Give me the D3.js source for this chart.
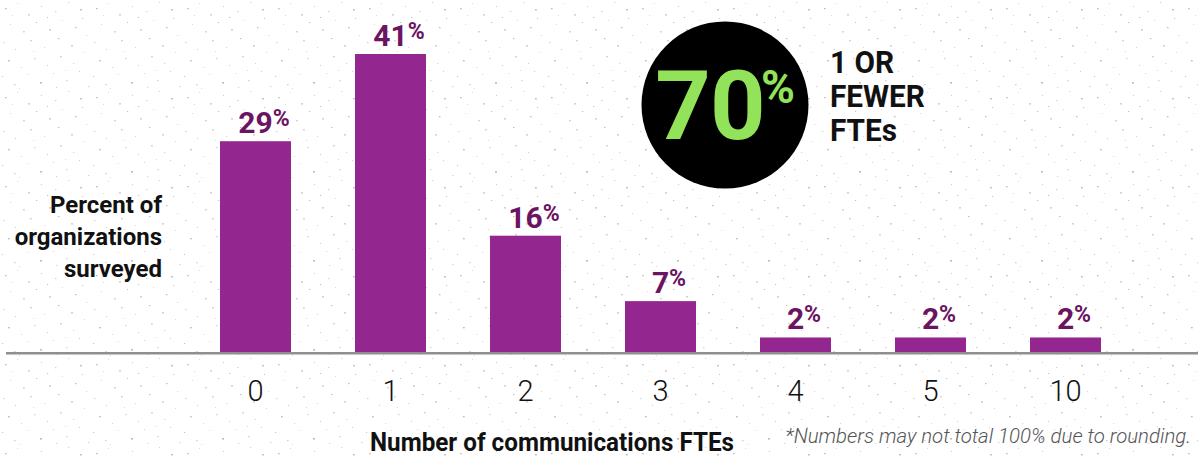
<!DOCTYPE html>
<html>
<head>
<meta charset="utf-8">
<script src="https://cdn.jsdelivr.net/npm/d3@7"></script>
<style>
  body { margin: 0; background: #fff; }
  svg { display: block; }
</style>
</head>
<body>
<div id="container"></div>
<script>
// data
let categories = ["0", "1", "2", "3", "4", "5", "10"];
let values = [29, 41, 16, 7, 2, 2, 2];
let bigNumber = 70;
let bigNumberText = ["1 OR", "FEWER", "FTEs"];
let yLabel = ["Percent of", "organizations", "surveyed"];
let xLabel = "Number of communications FTEs";
let footnote = "*Numbers may not total 100% due to rounding.";

let w = 1198;
let h = 456;
let barColor = "#93278f";
let labelColor = "#6b1462";
let ink = "#111111";

let viz = d3.select("#container")
  .append("svg")
    .attr("width", w)
    .attr("height", h);

// speckled paper background
let specks = [
  [5,8,1.6],[17,3,1],[28,14,2],[41,6,1],[55,11,1.4],[68,2,1.2],[80,9,1.8],
  [10,24,1],[23,31,1.8],[36,22,1.2],[49,29,2],[62,20,1],[75,27,1.5],[86,35,1.1],
  [3,42,1.4],[15,49,1],[30,40,1.8],[44,47,1.1],[58,38,1.4],[71,45,2],[84,52,1],
  [8,60,1.7],[21,67,1.1],[34,58,1.5],[47,65,1],[60,56,1.8],[73,63,1.2],
  [2,76,1.1],[14,84,1.6],[27,74,1],[40,82,2],[53,73,1.1],[66,80,1.5],[79,71,1],[88,86,1.4],
  [12,15,1],[47,17,1.2],[33,51,1],[65,70,1],[82,18,1.1],[19,88,1],[56,87,1.2]
];
let pat = viz.append("defs").append("pattern")
  .attr("id", "paper")
  .attr("width", 91)
  .attr("height", 89)
  .attr("patternUnits", "userSpaceOnUse");
pat.append("rect").attr("width", 91).attr("height", 89).attr("fill", "#ffffff");
pat.selectAll("rect.s")
  .data(specks)
  .enter()
  .append("rect")
    .attr("class", "s")
    .attr("x", d => d[0])
    .attr("y", d => d[1])
    .attr("width", d => d[2])
    .attr("height", d => d[2] * 0.8)
    .attr("fill", (d, i) => i % 3 == 0 ? "#bdbdbd" : "#d2d2d2");

viz.append("rect")
  .attr("width", w)
  .attr("height", h)
  .attr("fill", "url(#paper)");

// scales
let x = d3.scaleBand()
  .domain(categories)
  .range([188, 1133])
  .paddingInner(0.474)
  .paddingOuter(0.237);

let y = d3.scaleLinear()
  .domain([0, 41])
  .range([352, 54]);

// bars
viz.selectAll("rect.bar")
  .data(values)
  .enter()
  .append("rect")
    .attr("class", "bar")
    .attr("x", (d, i) => x(categories[i]))
    .attr("y", d => y(d))
    .attr("width", x.bandwidth())
    .attr("height", d => y(0) - y(d))
    .attr("fill", barColor);

// baseline
viz.append("line")
  .attr("x1", 6)
  .attr("x2", w)
  .attr("y1", y(0) + 1.3)
  .attr("y2", y(0) + 1.3)
  .attr("stroke", "#8f8f8f")
  .attr("stroke-width", 2.6);

// x axis tick labels
let xAxis = d3.axisBottom(x).tickSize(0).tickPadding(0);
let gx = viz.append("g")
  .attr("transform", "translate(0,401)")
  .call(xAxis);
gx.select(".domain").remove();
gx.selectAll("text")
  .attr("dy", 0)
  .attr("fill", ink)
  .attr("style", "font-size:29px; font-family: Roboto; font-weight:300;");

// value labels: number centred on the bar, % raised after it
let labels = viz.selectAll("g.val")
  .data(values)
  .enter()
  .append("g")
    .attr("class", "val")
    .attr("transform", (d, i) => "translate(" + (x(categories[i]) + x.bandwidth() / 2) + "," + (y(d) - 8) + ")");

labels.append("text")
  .attr("class", "num")
  .attr("text-anchor", "middle")
  .attr("fill", labelColor)
  .attr("style", "font-size:30px; font-family: Roboto; font-weight:700;")
  .text(d => d);

labels.each(function() {
  let g = d3.select(this);
  let tw = g.select("text.num").node().getComputedTextLength();
  g.append("text")
    .attr("x", tw / 2)
    .attr("y", -7)
    .attr("fill", labelColor)
    .attr("style", "font-size:23px; font-family: Roboto; font-weight:700;")
    .text("%");
});

// big circle
viz.append("circle")
  .attr("cx", 725)
  .attr("cy", 105)
  .attr("r", 83.5)
  .attr("fill", "#000000");

viz.append("text")
  .attr("x", 710)
  .attr("y", 139)
  .attr("text-anchor", "middle")
  .attr("fill", "#92e25a")
  .attr("style", "font-size:97px; font-family: Roboto; font-weight:700; letter-spacing:-1px;")
  .text(bigNumber);

viz.append("text")
  .attr("x", 761)
  .attr("y", 103)
  .attr("fill", "#92e25a")
  .attr("style", "font-size:46px; font-family: Roboto; font-weight:700;")
  .text("%");

// side note, one text with a line per tspan
viz.append("g")
  .attr("transform", "translate(830,0) scale(0.93,1)")
  .append("text")
    .attr("fill", ink)
    .attr("style", "font-size:32px; font-family: Roboto; font-weight:700;")
    .selectAll("tspan")
    .data(bigNumberText)
    .enter()
    .append("tspan")
      .attr("x", 0)
      .attr("y", (d, i) => 73 + i * 34)
      .text(d => d);

// y label
viz.append("text")
  .attr("text-anchor", "end")
  .attr("fill", ink)
  .attr("style", "font-size:24px; font-family: Roboto; font-weight:700;")
  .selectAll("tspan")
  .data(yLabel)
  .enter()
  .append("tspan")
    .attr("x", 162)
    .attr("y", (d, i) => 213 + i * 32)
    .text(d => d);

// x label
viz.append("g")
  .attr("transform", "translate(552,451) scale(0.97,1)")
  .append("text")
    .attr("text-anchor", "middle")
    .attr("fill", ink)
    .attr("style", "font-size:25px; font-family: Roboto; font-weight:700;")
    .text(xLabel);

// footnote
viz.append("text")
  .attr("x", 1191)
  .attr("y", 443)
  .attr("text-anchor", "end")
  .attr("fill", "#555555")
  .attr("style", "font-size:20.4px; font-family: Roboto; font-weight:300; font-style:italic;")
  .text(footnote);
</script>
</body>
</html>
